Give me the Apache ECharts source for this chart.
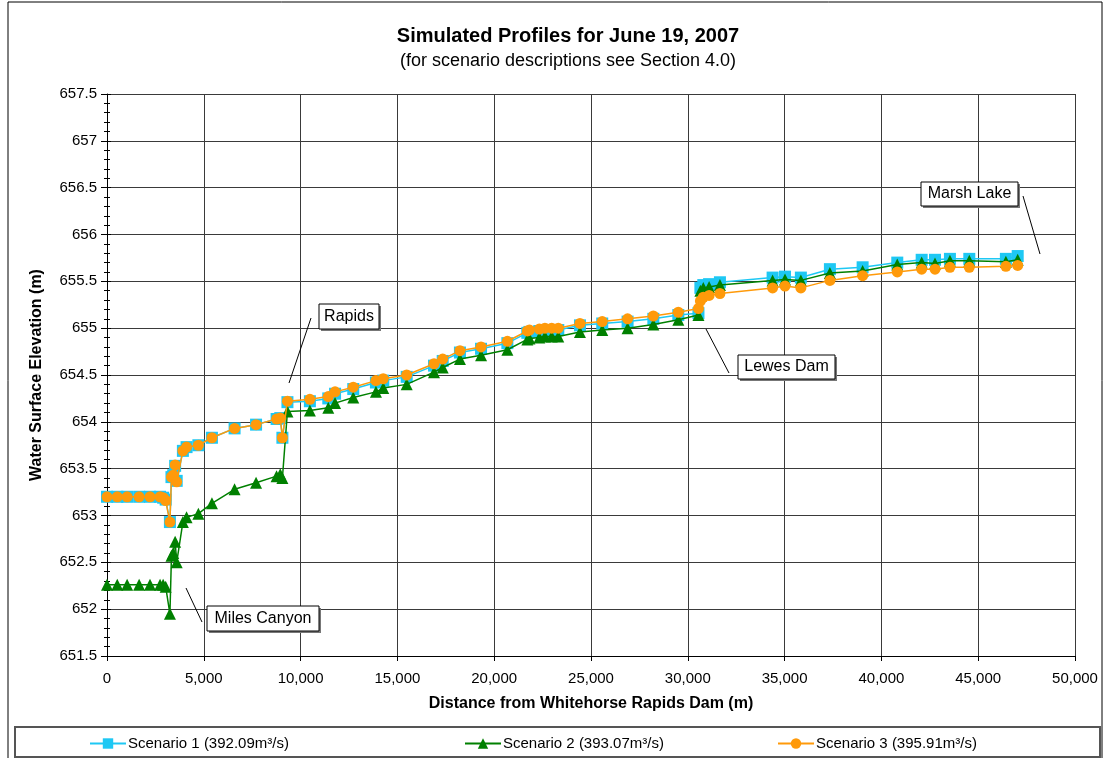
<!DOCTYPE html>
<html>
<head>
<meta charset="utf-8">
<script src="https://cdn.jsdelivr.net/npm/echarts@6/dist/echarts.min.js"></script>
<style>
  html, body { margin: 0; padding: 0; background: #fff; }
  #profileChart { width: 1104px; height: 758px; }
</style>
</head>
<body>
<div id="profileChart"></div>
<script>
// distance from Whitehorse Rapids Dam (m), shared by the three runs
const distance = [0, 530, 1040, 1660, 2220, 2740, 2900, 3030, 3250, 3330, 3420, 3520, 3600,
  3920, 4110, 4720, 5420, 6590, 7700, 8760, 8950, 9060,
  9320, 10480, 11430, 11780, 12720, 13890, 14270, 15480, 16890, 17340, 18230, 19320,
  20680, 21710, 21820, 22330, 22620, 22970, 23310, 24430, 25580, 26890, 28220, 29510,
  30550, 30650, 30800, 31100, 31660,
  34380, 35020, 35840, 37340, 39030, 40820, 42080, 42770, 43540, 44540, 46430, 47040];

const scenario1 = [653.20, 653.20, 653.20, 653.20, 653.20, 653.20, 653.19, 653.17, 652.93, 653.41, 653.43, 653.53, 653.37,
  653.69, 653.73, 653.75, 653.83, 653.93, 653.97, 654.03, 654.04, 653.83,
  654.21, 654.22, 654.25, 654.30, 654.35, 654.42, 654.44, 654.48, 654.60, 654.65, 654.74, 654.78,
  654.84, 654.95, 654.96, 654.97, 654.98, 654.98, 654.98, 655.03, 655.05, 655.07, 655.10, 655.14,
  655.16, 655.43, 655.46, 655.47, 655.49,
  655.54, 655.55, 655.54, 655.63, 655.65, 655.70, 655.73, 655.73, 655.74, 655.74, 655.74, 655.77];

const scenario2 = [652.26, 652.26, 652.26, 652.26, 652.26, 652.26, 652.26, 652.24, 651.95, 652.57, 652.60, 652.72, 652.50,
  652.93, 652.98, 653.02, 653.13, 653.28, 653.35, 653.42, 653.44, 653.40,
  654.11, 654.12, 654.15, 654.20, 654.26, 654.32, 654.36, 654.40, 654.53, 654.58, 654.67, 654.71,
  654.77, 654.88, 654.89, 654.90, 654.91, 654.91, 654.91, 654.96, 654.98, 655.00, 655.04, 655.09,
  655.14, 655.40, 655.43, 655.44, 655.46,
  655.51, 655.52, 655.51, 655.59, 655.61, 655.68, 655.70, 655.69, 655.72, 655.72, 655.71, 655.73];

const scenario3 = [653.20, 653.20, 653.20, 653.20, 653.20, 653.20, 653.19, 653.16, 652.93, 653.41, 653.43, 653.54, 653.36,
  653.69, 653.73, 653.75, 653.83, 653.93, 653.97, 654.03, 654.04, 653.83,
  654.22, 654.24, 654.27, 654.32, 654.37, 654.44, 654.46, 654.50, 654.62, 654.67, 654.76, 654.80,
  654.86, 654.97, 654.98, 654.99, 655.00, 655.00, 655.00, 655.05, 655.07, 655.10, 655.13, 655.17,
  655.21, 655.29, 655.33, 655.35, 655.37,
  655.43, 655.45, 655.43, 655.51, 655.56, 655.60, 655.63, 655.63, 655.65, 655.65, 655.66, 655.67];

const seriesNames = ['Scenario 1 (392.09m³/s)', 'Scenario 2 (393.07m³/s)', 'Scenario 3 (395.91m³/s)'];
const seriesColors = ['#1ec8f4', '#008000', '#ff9a0a'];
const seriesSymbols = ['rect', 'triangle', 'circle'];

const FONT = '"Liberation Sans", Arial, sans-serif';

function pairs(vals) {
  return distance.map(function (d, i) { return [d, vals[i]]; });
}

let myChart = echarts.init(document.getElementById('profileChart'));

let series = [scenario1, scenario2, scenario3].map(function (vals, i) {
  return {
    name: seriesNames[i],
    type: 'line',
    data: pairs(vals),
    symbol: seriesSymbols[i],
    symbolSize: i === 2 ? 11 : 12,
    showAllSymbol: true,
    lineStyle: { color: seriesColors[i], width: 1.5 },
    itemStyle: { color: seriesColors[i] },
    emphasis: { disabled: true },
    z: 3 + i
  };
});

// callout boxes: [text, box x, box y, box w, box h, line x1, y1, x2, y2]
const callouts = [
  ['Rapids', 319, 304, 60, 25, 311, 318, 289, 383],
  ['Miles Canyon', 207, 606, 112, 25, 186, 588, 202, 622],
  ['Lewes Dam', 738, 355, 97, 24, 706, 329, 729, 373],
  ['Marsh Lake', 921, 182, 97, 24, 1023, 196, 1040, 254]
];

let graphics = [
  { type: 'rect', shape: { x: 8, y: 2, width: 1094, height: 800 }, style: { fill: null, stroke: '#000', lineWidth: 1 }, silent: true },
  { type: 'rect', shape: { x: 15, y: 727, width: 1085, height: 30 }, style: { fill: '#fff', stroke: '#555', lineWidth: 2 }, silent: true },
  { type: 'text', x: 568, y: 26, style: { text: 'Simulated Profiles for June 19, 2007', font: 'bold 20px ' + FONT, fill: '#000', textAlign: 'center' } },
  { type: 'text', x: 568, y: 52, style: { text: '(for scenario descriptions see Section 4.0)', font: '18px ' + FONT, fill: '#000', textAlign: 'center' } }
];

callouts.forEach(function (c) {
  graphics.push({ type: 'line', shape: { x1: c[5], y1: c[6], x2: c[7], y2: c[8] }, style: { stroke: '#000', lineWidth: 1 }, z: 20 });
  graphics.push({ type: 'rect', shape: { x: c[1] + 2, y: c[2] + 2, width: c[3], height: c[4] }, style: { fill: '#777' }, z: 20 });
  graphics.push({ type: 'rect', shape: { x: c[1], y: c[2], width: c[3], height: c[4] }, style: { fill: '#fff', stroke: '#000', lineWidth: 1 }, z: 21 });
  graphics.push({ type: 'text', x: c[1] + c[3] / 2, y: c[2] + c[4] / 2, style: { text: c[0], font: '16px ' + FONT, fill: '#000', textAlign: 'center', textVerticalAlign: 'middle' }, z: 22 });
});

const legendLefts = [84, 459, 772];

let option = {
  animation: false,
  backgroundColor: '#fff',
  legend: seriesNames.map(function (n, i) {
    return {
      data: [n],
      left: legendLefts[i],
      top: 731,
      itemWidth: 36,
      itemHeight: 13,
      selectedMode: false,
      textStyle: { fontFamily: FONT, fontSize: 15, color: '#000', padding: [0, 0, 0, -3] }
    };
  }),
  grid: { left: 107, right: 29, top: 94, bottom: 102, containLabel: false },
  xAxis: {
    type: 'value',
    min: 0,
    max: 50000,
    interval: 5000,
    name: 'Distance from Whitehorse Rapids Dam (m)',
    nameLocation: 'middle',
    nameGap: 40,
    nameTextStyle: { fontFamily: FONT, fontSize: 16, fontWeight: 'bold', color: '#000' },
    axisLine: { show: true, lineStyle: { color: '#000', width: 1 } },
    axisTick: { show: true, length: 5, lineStyle: { color: '#000' } },
    axisLabel: {
      margin: 15,
      fontFamily: FONT, fontSize: 15, color: '#000',
      formatter: function (v) { return v.toLocaleString('en-US'); }
    },
    splitLine: { show: true, lineStyle: { color: '#3a3a3a', width: 1 } }
  },
  yAxis: [
    {
      type: 'value',
      min: 651.5,
      max: 657.5,
      interval: 0.5,
      name: 'Water Surface Elevation (m)',
      nameLocation: 'middle',
      nameGap: 62,
      nameTextStyle: { fontFamily: FONT, fontSize: 16, fontWeight: 'bold', color: '#000' },
      axisLine: { show: true, lineStyle: { color: '#000', width: 1 } },
      axisTick: { show: true, length: 6, lineStyle: { color: '#000' } },
      minorTick: { show: true, splitNumber: 5, length: 3, lineStyle: { color: '#000' } },
      axisLabel: { margin: 10, fontFamily: FONT, fontSize: 15, color: '#000' },
      splitLine: { show: true, lineStyle: { color: '#3a3a3a', width: 1 } }
    },
    {
      type: 'value',
      position: 'left',
      min: 651.5,
      max: 657.5,
      interval: 0.5,
      axisLine: { show: false },
      axisTick: { show: true, inside: true, length: 4, lineStyle: { color: '#000' } },
      minorTick: { show: true, splitNumber: 5, length: 3, lineStyle: { color: '#000' } },
      axisLabel: { show: false },
      splitLine: { show: false }
    }
  ],
  series: series,
  graphic: graphics
};

myChart.setOption(option);

window.onresize = function () {
  myChart.resize();
};
</script>
</body>
</html>
